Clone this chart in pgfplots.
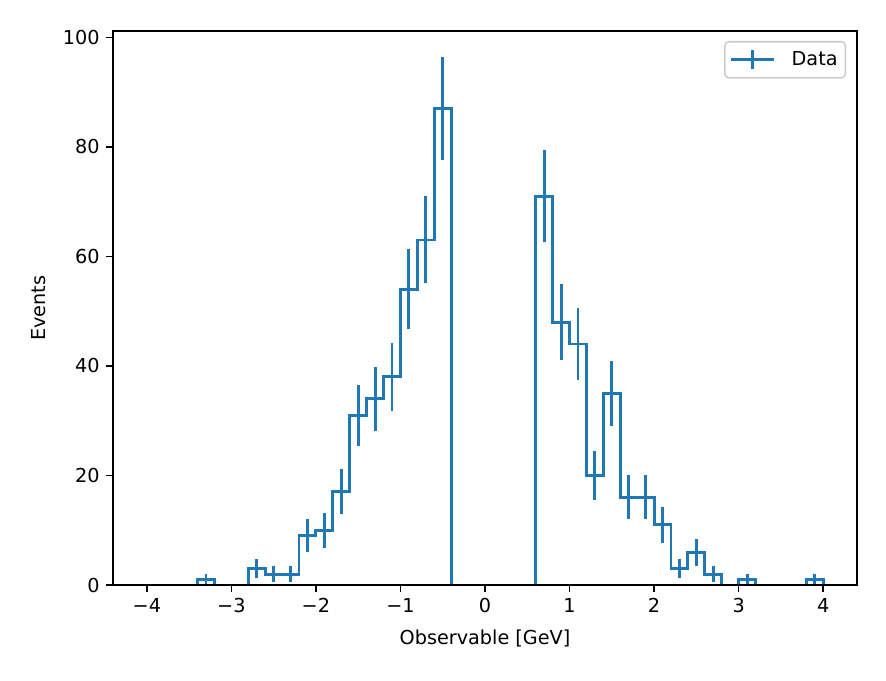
\documentclass[border=0pt]{standalone}
\usepackage{pgfplots}
\pgfplotsset{compat=1.18}
\usepackage{fontspec}
\setmainfont{DejaVu Sans}
\definecolor{mplblue}{HTML}{1F77B4}
\begin{document}
\begin{tikzpicture}[font=\fontsize{10bp}{12bp}\selectfont]
\begin{axis}[
  scale only axis,
  width=386.9bp, height=288.1bp,
  xmin=-4.4, xmax=4.4, ymin=0, ymax=101.15,
  axis on top,
  axis line style={line width=0.8bp, black},
  tick style={line width=0.8bp, black},
  tick align=outside,
  major tick length=3.5bp,
  xtick={-4,-3,-2,-1,0,1,2,3,4},
  xticklabels={−4,−3,−2,−1,0,1,2,3,4},
  ytick={0,20,40,60,80,100},
  yticklabels={0,20,40,60,80,100},
  minor tick num=0,
  xtick pos=bottom, ytick pos=left,
  xlabel={Observable [GeV]},
  ylabel={Events},
  xlabel style={yshift=-2bp},
  ylabel style={yshift=2bp},
  legend style={at={(1,1)}, anchor=north east, xshift=-5.7bp, yshift=-5.2bp,
     draw=black!20, rounded corners=2bp, fill=white, line width=0.8bp,
     inner xsep=2bp, inner ysep=3bp},
  legend cell align=left,
  legend image code/.code={
     \path (-0.6bp,0bp) (28.6bp,0bp);
     \draw[#1] (0bp,0bp) -- (22bp,0bp);
     \draw[#1] (11bp,-5bp) -- (11bp,5bp);
  },
]
\addplot[const plot, color=mplblue, line width=1.5bp] coordinates {
(-4.0,0) (-3.8,0) (-3.6,0) (-3.4,1) (-3.2,0) (-3.0,0) (-2.8,3) (-2.6,2) (-2.4,2)
(-2.2,9) (-2.0,10) (-1.8,17) (-1.6,31) (-1.4,34) (-1.2,38) (-1.0,54) (-0.8,63)
(-0.6,87) (-0.4,0) (-0.2,0) (0.0,0) (0.2,0) (0.4,0) (0.6,71) (0.8,48) (1.0,44)
(1.2,20) (1.4,35) (1.6,16) (1.8,16) (2.0,11) (2.2,3) (2.4,6) (2.6,2) (2.8,0)
(3.0,1) (3.2,0) (3.4,0) (3.6,0) (3.8,1) (4.0,0)
};
\addlegendentry{Data}
\addplot[draw=none, mark=none, forget plot,
  error bars/.cd, y dir=both, y explicit,
  error mark=none,
  error bar style={line width=1.5bp, color=mplblue}] coordinates {
(-3.3,1) +- (0,1)
(-2.7,3) +- (0,1.732)
(-2.5,2) +- (0,1.414)
(-2.3,2) +- (0,1.414)
(-2.1,9) +- (0,3)
(-1.9,10) +- (0,3.162)
(-1.7,17) +- (0,4.123)
(-1.5,31) +- (0,5.568)
(-1.3,34) +- (0,5.831)
(-1.1,38) +- (0,6.164)
(-0.9,54) +- (0,7.348)
(-0.7,63) +- (0,7.937)
(-0.5,87) +- (0,9.327)
(0.7,71) +- (0,8.426)
(0.9,48) +- (0,6.928)
(1.1,44) +- (0,6.633)
(1.3,20) +- (0,4.472)
(1.5,35) +- (0,5.916)
(1.7,16) +- (0,4)
(1.9,16) +- (0,4)
(2.1,11) +- (0,3.317)
(2.3,3) +- (0,1.732)
(2.5,6) +- (0,2.449)
(2.7,2) +- (0,1.414)
(3.1,1) +- (0,1)
(3.9,1) +- (0,1)
};
\end{axis}
\path (current axis.south west) ++(-58.76bp,-49.4bp) coordinate (bbsw);
\path (current axis.north east) ++(15.08bp,16.12bp) coordinate (bbne);
\path[use as bounding box] (bbsw) rectangle (bbne);
\end{tikzpicture}
\end{document}
